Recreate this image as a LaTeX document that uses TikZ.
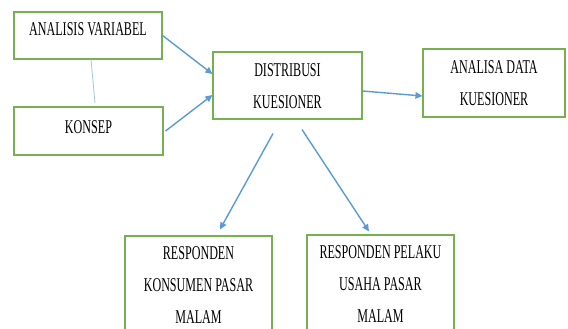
\documentclass[tikz,border=0pt]{standalone}
\usepackage{fontspec}
\usetikzlibrary{arrows.meta}
\newfontfamily\boxfont[FakeStretch=0.62]{Liberation Serif}
\definecolor{boxgreen}{RGB}{118,176,80}
\definecolor{arrowblue}{RGB}{91,155,213}
\definecolor{thinblue}{RGB}{160,200,225}
\begin{document}
\begin{tikzpicture}[x=1pt,y=-1pt,
    box/.style={draw=boxgreen,line width=1.1pt,inner sep=0pt},
    txt/.style={font=\boxfont\fontsize{19.5}{32}\selectfont,align=center,inner sep=0pt,text=black},
    arr/.style={draw=arrowblue,line width=1.4pt,-{Triangle[length=7pt,width=6.5pt]}}]
    \clip (0,0) rectangle (568,329);
    \fill[white] (0,0) rectangle (568,329);
    \node[box,minimum width=148pt,minimum height=47pt] (av) at (88,35.5) {};
    \node[txt] (avtxt) at (88,29) {ANALISIS VARIABEL};
    \node[box,minimum width=149pt,minimum height=48pt] (ks) at (88.5,131) {};
    \node[txt] (kstxt) at (88.5,127) {KONSEP};
    \node[box,minimum width=149pt,minimum height=67pt] (dk) at (287.5,85.5) {};
    \node[txt] (dktxt) at (287.5,86) {DISTRIBUSI\\KUESIONER};
    \node[box,minimum width=142pt,minimum height=68pt] (ad) at (494,83) {};
    \node[txt] (adtxt) at (494,83) {ANALISA DATA\\KUESIONER};
    \node[box,minimum width=147pt,minimum height=110pt] (rk) at (198.5,291) {};
    \node[txt] (rktxt) at (198.5,285) {RESPONDEN\\KONSUMEN PASAR\\MALAM};
    \node[box,minimum width=147pt,minimum height=110pt] (rp) at (380.5,290) {};
    \node[txt] (rptxt) at (380.5,284.5) {RESPONDEN PELAKU\\USAHA PASAR\\MALAM};
    \coordinate (gap) at (95,103);
    \draw[thinblue,line width=0.8pt] ([xshift=3pt]av.south) -- (gap);
    \draw[arr] (av.east) -- ([yshift=11.5pt]dk.west);
    \draw[arr] ([xshift=2pt]ks.east) -- ([yshift=-9.5pt]dk.west);
    \draw[arr] ([yshift=-5.5pt]dk.east) -- ([yshift=-13pt]ad.west);
    \draw[arr] ([xshift=-14.5pt,yshift=-14pt]dk.south) -- ([xshift=21.5pt,yshift=6pt]rk.north);
    \draw[arr] ([xshift=14.5pt,yshift=-10pt]dk.south) -- ([xshift=-11.5pt,yshift=3pt]rp.north);
\end{tikzpicture}
\end{document}
